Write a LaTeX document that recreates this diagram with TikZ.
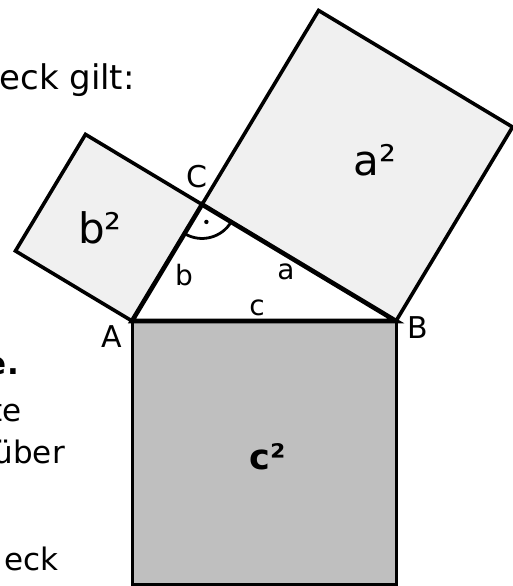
\documentclass[tikz,border=0pt]{standalone}
\usepackage{fontspec}
\setmainfont{DejaVu Sans}
\usetikzlibrary{calc}

\begin{document}
\begin{tikzpicture}[
        x=1pt, y=1pt,
        every node/.style={font=\fontsize{28}{32}\selectfont, inner sep=0pt},
        square/.style={draw, line width=3.6pt},
        bigsquare/.style={draw, line width=3pt, fill=black!25},
        side/.style={draw, line width=4.6pt, fill=white},
        vertex/.style={font=\fontsize{30}{34}\selectfont},
        area/.style={font=\fontsize{42}{46}\selectfont},
        cut/.style={anchor=base east, font=\fontsize{31}{36}\selectfont}
    ]
%
    \useasboundingbox (0,0) rectangle (513,586);
    \clip (0,0) rectangle (513,586);
%
    % Triangle corners
    \coordinate (A) at (132,265);
    \coordinate (B) at (396,265);
    \coordinate (M) at ($(A)!0.5!(B)$);
    \coordinate (C) at ($(M)+(118:132)$);
%
    % Squares on the sides
    \draw[bigsquare] (A) -- ($(A)!1!-90:(B)$) -- ($(B)!1!90:(A)$) -- (B);
    \fill[black!6] (A) -- (C) -- ($(C)!1!-90:(A)$) -- ($(A)!1!90:(C)$) -- cycle;
    \fill[black!6] (C) -- ($(C)!1!90:(B)$) -- ($(B)!1!-90:(C)$) -- (B) -- cycle;
    \draw[square] (A) -- ($(A)!1!90:(C)$) -- ($(C)!1!-90:(A)$) -- (C);
    \draw[square] (C) -- ($(C)!1!90:(B)$) -- ($(B)!1!-90:(C)$) -- (B);
%
    % Triangle
    \draw[side] (A) -- (B) -- (C) -- cycle;
    \draw[line width=2.8pt] ($(C)+(239:34)$) arc[start angle=239, end angle=329, radius=34];
    \fill ($(C)+(284:18)$) circle (2.2pt);
%
    % Labels
    \node[vertex] (labC) at (197,409) {C};
    \node[vertex] (labA) at (112,249) {A};
    \node[vertex] (labB) at (418,258) {B};
    \node (laba) at (286,314) {a};
    \node (labb) at (184,311) {b};
    \node (labc) at (257,278) {c};
    \node[area] (suma) at (375,426) {a²};
    \node[area] (sumb) at (100,358) {b²};
    \node[font=\fontsize{35}{38}\selectfont\bfseries] (sumc) at (268,129) {c²};
%
    % Text cut off at the left edge
    \node[cut, font=\fontsize{34}{38}\selectfont] (txt1) at (135,496) {eck gilt:};
    \node[cut] (txt2) at (2,379) {,};
    \node[cut, font=\fontsize{31}{36}\selectfont\bfseries] (txt3) at (19,211) {e.};
    \node[cut] (txt4) at (22,164) {te};
    \node[cut] (txt5) at (65,122) {über};
    \node[cut] (txt6) at (59,16) {eck};
%
\end{tikzpicture}
\end{document}
